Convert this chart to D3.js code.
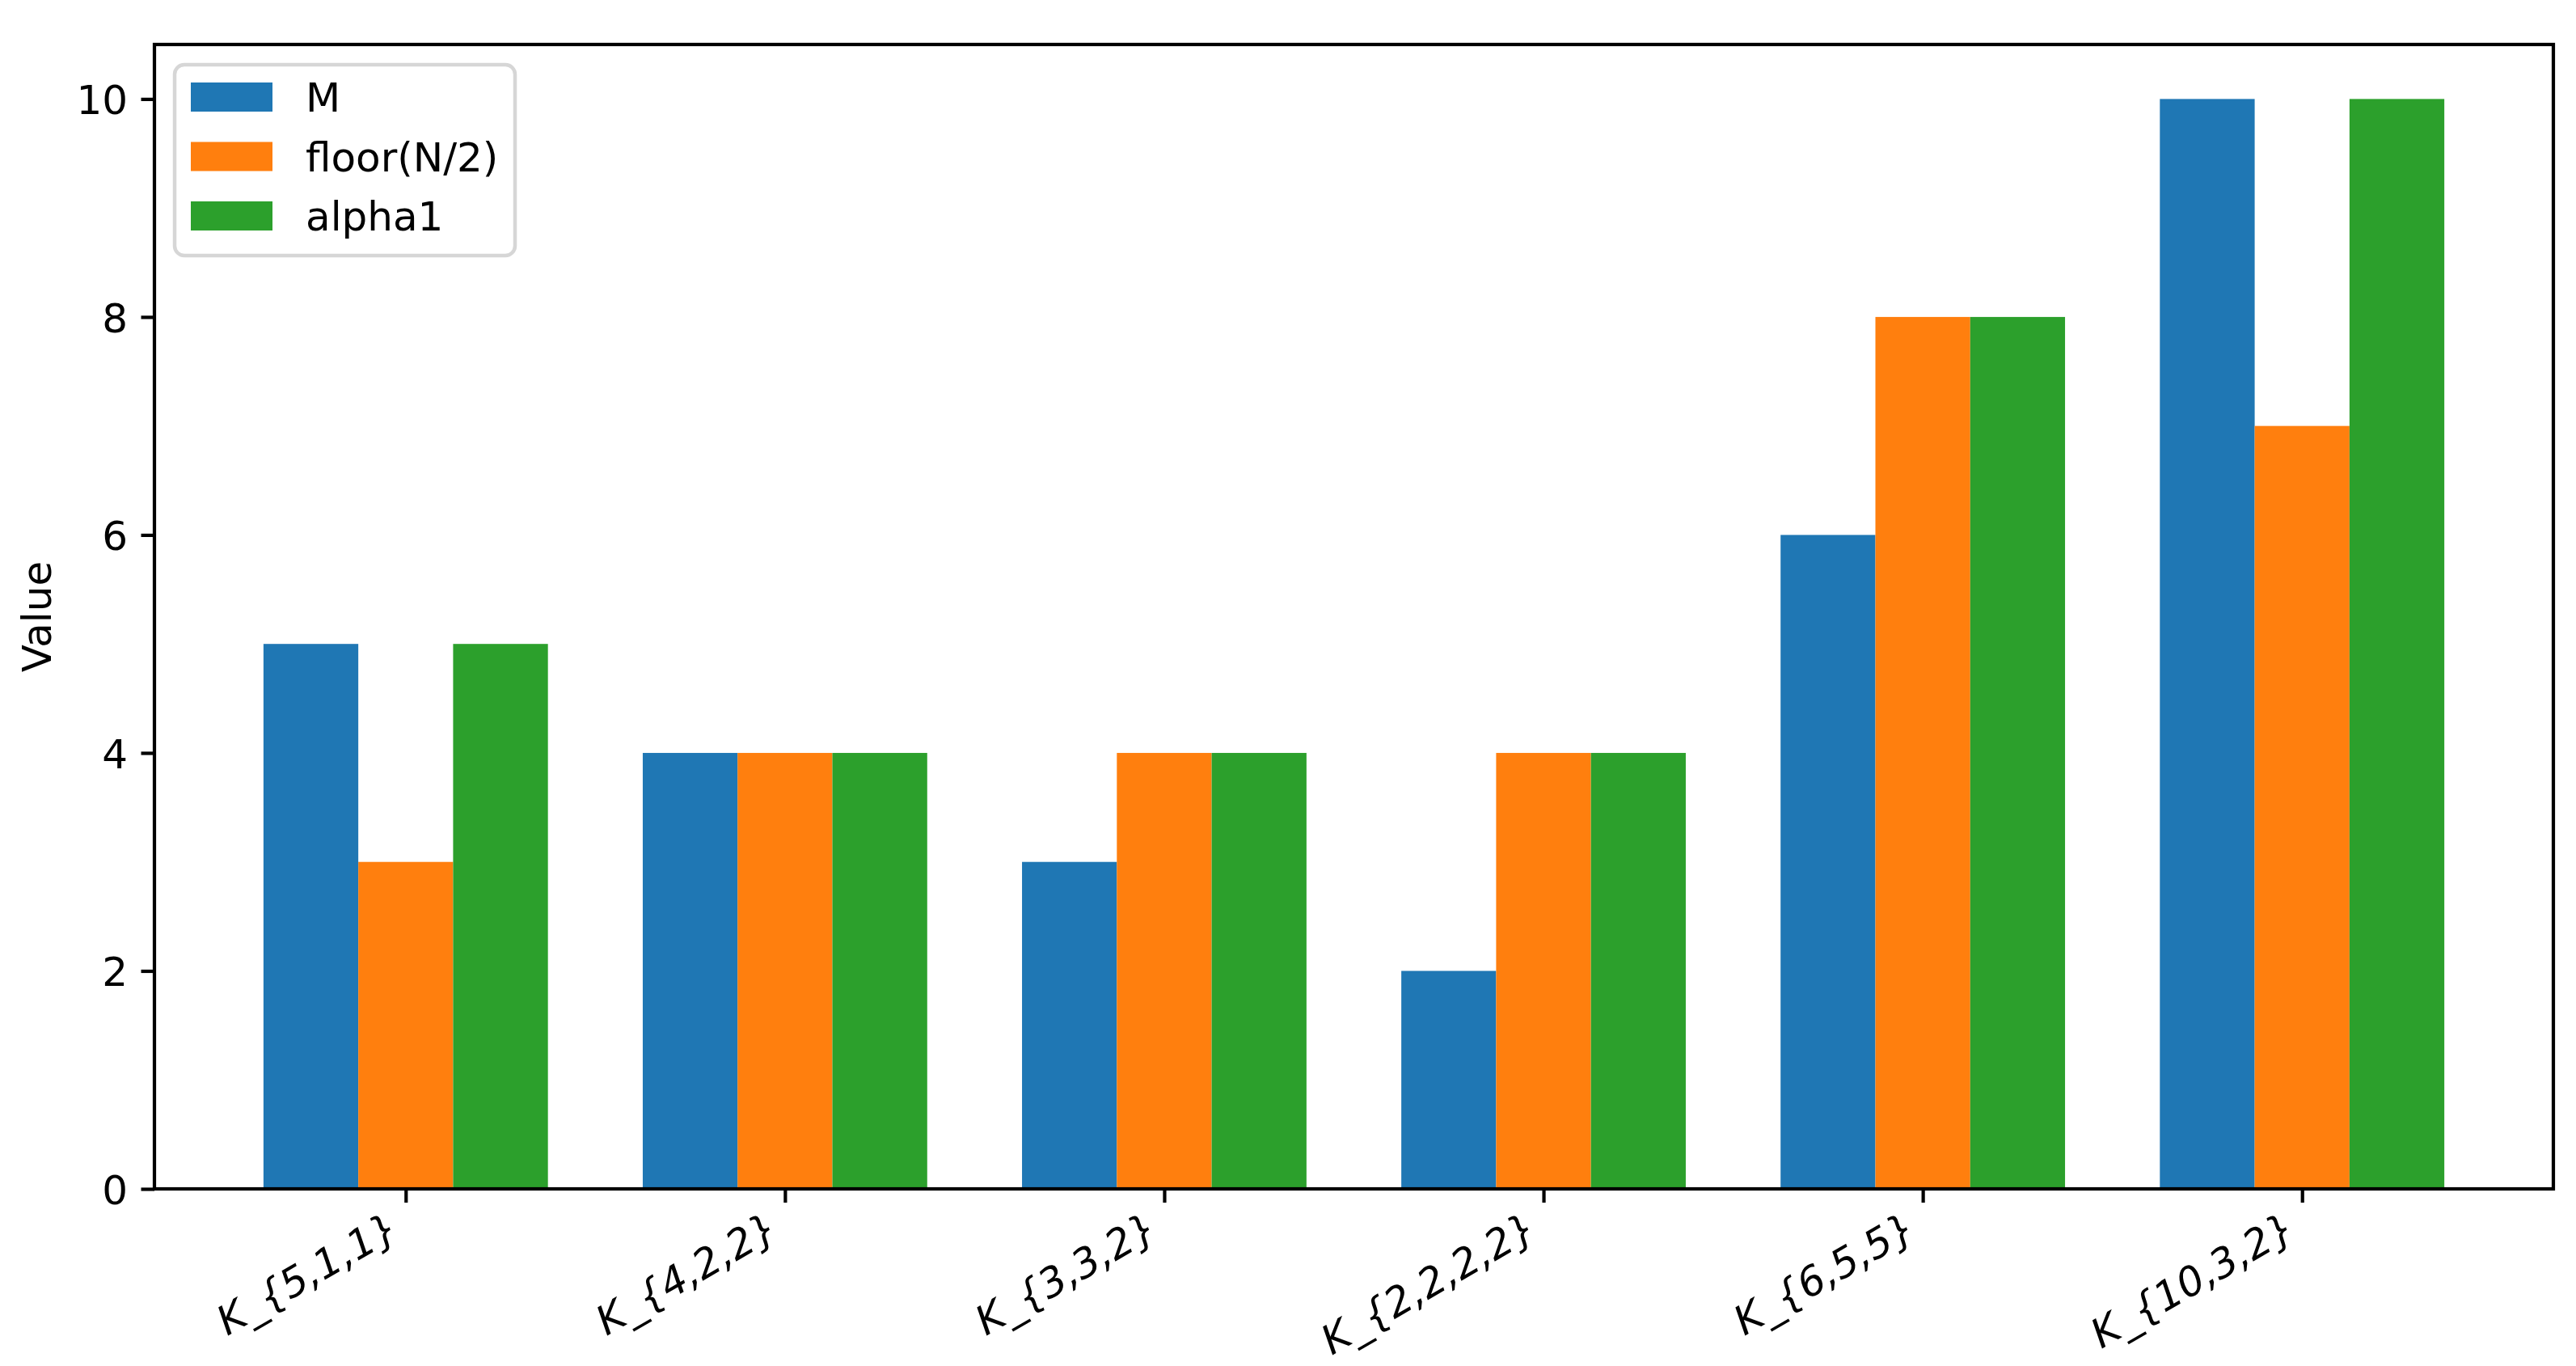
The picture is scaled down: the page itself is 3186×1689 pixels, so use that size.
<!DOCTYPE html>
<html>
<head>
<meta charset="utf-8">
<script src="https://cdn.jsdelivr.net/npm/d3@7"></script>
<style>
  body { margin: 0; background: #fff; }
  svg { display: block; font-family: "DejaVu Sans", sans-serif; }
</style>
</head>
<body>
<svg width="3186" height="1689"></svg>
<script>
var graphs = ["K_{5,1,1}", "K_{4,2,2}", "K_{3,3,2}", "K_{2,2,2,2}", "K_{6,5,5}", "K_{10,3,2}"];
var seriesNames = ["M", "floor(N/2)", "alpha1"];
var valuesM = [5, 4, 3, 2, 6, 10];
var valuesFloor = [3, 4, 4, 4, 8, 7];
var valuesAlpha = [5, 4, 4, 4, 8, 10];
var yTicks = [0, 2, 4, 6, 8, 10];
var colors = ["#1f77b4", "#ff7f0e", "#2ca02c"];

var series = [valuesM, valuesFloor, valuesAlpha];

var svg = d3.select("svg"),
    margin = {top: 55, right: 28, bottom: 219, left: 191},
    width = +svg.attr("width") - margin.left - margin.right,
    height = +svg.attr("height") - margin.top - margin.bottom,
    g = svg.append("g").attr("transform", "translate(" + margin.left + "," + margin.top + ")");

var fontSize = 50,
    barW = 0.25;

// x extent of the bars plus matplotlib's 5% margin
var lo = -1.5 * barW, hi = graphs.length - 1 + 1.5 * barW, pad = (hi - lo) * 0.05;
var x = d3.scaleLinear()
    .domain([lo - pad, hi + pad])
    .range([0, width]);

var yMax = d3.max(series, function(s) { return d3.max(s); });
var y = d3.scaleLinear()
    .domain([0, yMax * 1.05])
    .range([height, 0]);

// bars
series.forEach(function(vals, j) {
  g.append("g")
      .attr("fill", colors[j])
    .selectAll("rect")
    .data(vals)
    .enter().append("rect")
      .attr("x", function(d, i) { return x(i + (j - 1) * barW - barW / 2); })
      .attr("width", function(d, i) { return x(i + (j - 1) * barW + barW / 2) - x(i + (j - 1) * barW - barW / 2); })
      .attr("y", function(d) { return y(d); })
      .attr("height", function(d) { return y(0) - y(d); });
});

// axes
var xAxis = g.append("g")
    .attr("transform", "translate(0," + height + ")")
    .call(d3.axisBottom(x)
      .tickValues(d3.range(graphs.length))
      .tickFormat(function(i) { return graphs[i]; })
      .tickSizeInner(17).tickSizeOuter(0));

xAxis.selectAll("text")
    .attr("x", 0).attr("y", 0).attr("dy", 0)
    .attr("text-anchor", "end")
    .attr("font-style", "italic")
    .attr("transform", "translate(-6,58) rotate(-30)");

var yAxis = g.append("g")
    .call(d3.axisLeft(y)
      .tickValues(yTicks)
      .tickSizeInner(16.5).tickSizeOuter(0));

yAxis.selectAll("text")
    .attr("x", -33)
    .attr("dy", "0.364em");

g.selectAll(".domain").remove();
g.selectAll(".tick line").attr("stroke", "#000").attr("stroke-width", 4.2);
g.selectAll(".tick text")
    .attr("fill", "#000")
    .attr("font-size", fontSize)
    .attr("font-family", "DejaVu Sans, sans-serif");

// frame
g.append("rect")
    .attr("width", width)
    .attr("height", height)
    .attr("fill", "none")
    .attr("stroke", "#000")
    .attr("stroke-width", 4.2);

// y label
svg.append("text")
    .attr("transform", "translate(63," + (margin.top + height / 2) + ") rotate(-90)")
    .attr("text-anchor", "middle")
    .attr("font-size", fontSize)
    .text("Value");

// legend
var legend = g.append("g").attr("transform", "translate(25,25)");

legend.append("rect")
    .attr("x", 0).attr("y", 0)
    .attr("width", 421).attr("height", 236)
    .attr("rx", 12)
    .attr("fill", "#fff")
    .attr("fill-opacity", 0.8)
    .attr("stroke", "#d6d6d6")
    .attr("stroke-width", 4.5);

var item = legend.selectAll(".item")
    .data(seriesNames)
    .enter().append("g")
      .attr("transform", function(d, i) { return "translate(0," + (40 + i * 73.5) + ")"; });

item.append("rect")
    .attr("x", 20).attr("y", -18)
    .attr("width", 101).attr("height", 36)
    .attr("fill", function(d, i) { return colors[i]; });

item.append("text")
    .attr("x", 162)
    .attr("dy", "0.364em")
    .attr("font-size", fontSize)
    .text(function(d) { return d; });
</script>
</body>
</html>
